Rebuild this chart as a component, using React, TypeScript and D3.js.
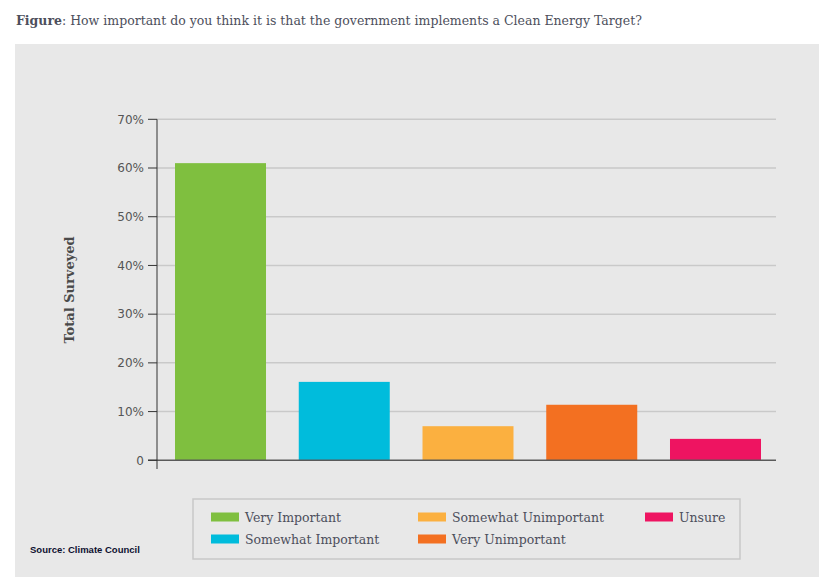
import React from "react";
import * as d3 from "d3";

const categories = ["Very Important", "Somewhat Important", "Somewhat Unimportant", "Very Unimportant", "Unsure"];
const values = [61.0, 16.1, 7.0, 11.4, 4.4];
const colors = ["#7fbf3f", "#00bcdc", "#fbb040", "#f37021", "#ee1461"];
const yTicks = [0, 10, 20, 30, 40, 50, 60, 70];
const legendOrder = [
  { i: 0, col: 0, row: 0 },
  { i: 1, col: 0, row: 1 },
  { i: 2, col: 1, row: 0 },
  { i: 3, col: 1, row: 1 },
  { i: 4, col: 2, row: 0 },
];

const W = 829;
const H = 577;
const serif = "'DejaVu Serif', serif";
const sans = "'DejaVu Sans', 'Noto Sans', sans-serif";
const textColor = "#4d4f5c";

export default function App() {
  const x0 = 157, xGridEnd = 776, yTop = 119.3, yZero = 460.3;
  const x = d3.scaleBand<string>().domain(categories).range([x0, 779]).paddingInner(0.2646).paddingOuter(0.1455);
  const y = d3.scaleLinear().domain([0, 70]).range([yZero, yTop]);
  const colX = [211, 418, 645];
  const rowY = [512.5, 534.5];
  return (
    <svg width={W} height={H} style={{ position: "absolute", left: 0, top: 0 }}>
      <rect x={0} y={0} width={W} height={H} fill="#ffffff" />
      <rect x={15} y={44} width={804} height={533} fill="#e8e8e8" />
      <text x={16} y={25} fontFamily={serif} fontSize={12.5} fill={textColor}>
        <tspan fontWeight="bold">Figure</tspan>: How important do you think it is that the government implements a Clean Energy Target?
      </text>
      {/* gridlines */}
      {yTicks.filter((t) => t > 0).map((t) => (
        <line key={"g" + t} x1={x0} x2={xGridEnd} y1={y(t)} y2={y(t)} stroke="#c9c9c9" strokeWidth={1.5} />
      ))}
      {/* bars */}
      {categories.map((c, i) => (
        <rect key={c} x={x(c)} y={y(values[i])} width={x.bandwidth()} height={yZero - y(values[i])} fill={colors[i]} />
      ))}
      {/* axes */}
      <line x1={148} x2={xGridEnd} y1={yZero} y2={yZero} stroke="#5a5a5a" strokeWidth={1.5} />
      <line x1={x0} x2={x0} y1={yTop} y2={469} stroke="#333" strokeWidth={1} />
      {yTicks.map((t) => (
        <g key={"t" + t}>
          <line x1={148} x2={x0} y1={y(t)} y2={y(t)} stroke="#333" strokeWidth={1} />
          <text x={144} y={y(t)} dy="0.35em" textAnchor="end" fontFamily={sans} fontSize={12} fill="#555">
            {t === 0 ? "0" : `${t}%`}
          </text>
        </g>
      ))}
      <text transform={`translate(74,290) rotate(-90)`} textAnchor="middle" fontFamily={serif} fontWeight="bold" fontSize={13} fill="#4a4a4a">
        Total Surveyed
      </text>
      {/* legend */}
      <rect x={193} y={499} width={547} height={60} fill="none" stroke="#c8c8c8" strokeWidth={1.5} />
      {legendOrder.map(({ i, col, row }) => (
        <g key={"l" + i}>
          <rect x={colX[col]} y={rowY[row]} width={28} height={9} fill={colors[i]} />
          <text x={colX[col] + 34} y={rowY[row] + 9.5} fontFamily={serif} fontSize={12.5} fill={textColor}>
            {categories[i]}
          </text>
        </g>
      ))}
      <text x={30} y={553} fontFamily="'Liberation Sans', 'DejaVu Sans', sans-serif" fontWeight="bold" fontSize={9.5} fill="#0d1030">
        Source: Climate Council
      </text>
    </svg>
  );
}
